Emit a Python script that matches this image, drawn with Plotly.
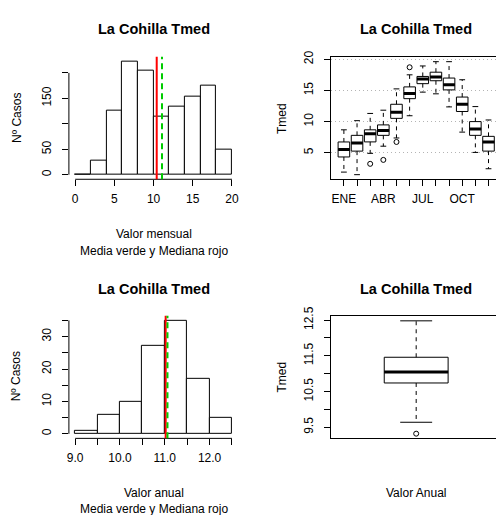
import plotly.graph_objects as go

W, H = 497, 515

def fx(x):
    return x / W

def fy(y):
    return 1 - y / H

# ---------------- data ----------------
mensual_bordes = [0, 2, 4, 6, 8, 10, 12, 14, 16, 18, 20]
mensual_casos = [1, 28, 126, 223, 205, 115, 133, 154, 175, 50]
mensual_media = 11.07
mensual_mediana = 10.40
mensual_ticks = [0, 5, 10, 15, 20]
mensual_yticks = [0, 50, 100, 150, 200]
mensual_ytext = ["0", "50", "", "150", ""]

anual_bordes = [9.0, 9.5, 10.0, 10.5, 11.0, 11.5, 12.0, 12.5]
anual_casos = [1, 6, 10, 27, 35, 17, 5]
anual_media = 11.06
anual_mediana = 11.02
anual_xticks = [9.0, 9.5, 10.0, 10.5, 11.0, 11.5, 12.0, 12.5]
anual_xtext = ["9.0", "", "10.0", "", "11.0", "", "12.0", ""]
anual_yticks = [0, 5, 10, 15, 20, 25, 30, 35]
anual_ytext = ["0", "", "10", "", "20", "", "30", ""]

meses = ["ENE", "FEB", "MAR", "ABR", "MAY", "JUN", "JUL", "AGO", "SEP", "OCT", "NOV", "DIC"]
meses_etiqueta = ["ENE", "", "", "ABR", "", "", "JUL", "", "", "OCT", "", ""]
mes_bigote_inf = [1.89, 1.48, 4.90, 6.05, 7.37, 10.94, 14.73, 14.46, 12.36, 8.31, 5.05, 2.43]
mes_q1 = [4.32, 5.26, 6.74, 7.79, 10.52, 13.68, 16.09, 16.56, 15.09, 11.62, 7.79, 5.26]
mes_mediana = [5.52, 6.58, 8.05, 8.58, 11.52, 14.51, 16.83, 17.15, 15.93, 12.78, 8.83, 6.73]
mes_q3 = [6.73, 7.79, 8.68, 9.47, 12.78, 15.57, 17.25, 17.93, 16.99, 13.94, 10.00, 7.63]
mes_bigote_sup = [8.68, 10.15, 11.31, 11.83, 15.25, 17.51, 18.93, 19.62, 19.62, 16.72, 12.41, 10.26]
atipico_mes = [3, 4, 5, 6]
atipico_valor = [3.22, 3.85, 6.73, 18.72]
mes_yticks = [5, 10, 15, 20]

caja_anual = dict(bigote_inf=9.64, q1=10.74, mediana=11.05, q3=11.46, bigote_sup=12.48)
caja_anual_atipicos = [9.32]
caja_anual_yticks = [9.5, 10.0, 10.5, 11.0, 11.5, 12.0, 12.5]
caja_anual_ytext = ["9.5", "", "10.5", "", "11.5", "", "12.5"]

titulo = "La Cohilla Tmed"

# ---------------- figure ----------------
fig = go.Figure()
BLACK = "#000000"


def add_hist(bordes, casos, xa, ya):
    centros = [(a + b) / 2 for a, b in zip(bordes[:-1], bordes[1:])]
    anchos = [b - a for a, b in zip(bordes[:-1], bordes[1:])]
    fig.add_trace(go.Bar(x=centros, y=casos, width=anchos, xaxis=xa, yaxis=ya,
                         marker=dict(color="white", line=dict(color=BLACK, width=1)),
                         showlegend=False, hoverinfo="skip"))


add_hist(mensual_bordes, mensual_casos, "x", "y")
add_hist(anual_bordes, anual_casos, "x3", "y3")


def add_boxes(pos, lo, q1, med, q3, hi, width, xa, ya):
    fig.add_trace(go.Box(x=pos, q1=q1, median=med, q3=q3, lowerfence=q1, upperfence=q3,
                         width=width, whiskerwidth=0, boxpoints=False,
                         fillcolor="white", line=dict(color=BLACK, width=1),
                         xaxis=xa, yaxis=ya, showlegend=False, hoverinfo="skip"))
    wx, wy, sx, sy, mx, my = [], [], [], [], [], []
    s = width / 4
    h = width / 2
    for p, a, b, m, c, d in zip(pos, lo, q1, med, q3, hi):
        wx += [p, p, None, p, p, None]
        wy += [c, d, None, b, a, None]
        sx += [p - s, p + s, None, p - s, p + s, None]
        sy += [d, d, None, a, a, None]
        mx += [p - h, p + h, None]
        my += [m, m, None]
    fig.add_trace(go.Scatter(x=wx, y=wy, mode="lines", xaxis=xa, yaxis=ya,
                             line=dict(color=BLACK, width=1, dash="4px,4px"),
                             showlegend=False, hoverinfo="skip"))
    fig.add_trace(go.Scatter(x=sx, y=sy, mode="lines", xaxis=xa, yaxis=ya,
                             line=dict(color=BLACK, width=1),
                             showlegend=False, hoverinfo="skip"))
    fig.add_trace(go.Scatter(x=mx, y=my, mode="lines", xaxis=xa, yaxis=ya,
                             line=dict(color=BLACK, width=3),
                             showlegend=False, hoverinfo="skip"))


pos_meses = list(range(1, len(meses) + 1))
add_boxes(pos_meses, mes_bigote_inf, mes_q1, mes_mediana, mes_q3, mes_bigote_sup, 0.88, "x2", "y2")
fig.add_trace(go.Scatter(x=atipico_mes, y=atipico_valor, mode="markers", xaxis="x2", yaxis="y2",
                         marker=dict(symbol="circle-open", size=5, color=BLACK, line=dict(width=1)),
                         showlegend=False, hoverinfo="skip"))

add_boxes([1], [caja_anual["bigote_inf"]], [caja_anual["q1"]], [caja_anual["mediana"]],
          [caja_anual["q3"]], [caja_anual["bigote_sup"]], 0.405, "x4", "y4")
fig.add_trace(go.Scatter(x=[1] * len(caja_anual_atipicos), y=caja_anual_atipicos, mode="markers",
                         xaxis="x4", yaxis="y4",
                         marker=dict(symbol="circle-open", size=5, color=BLACK, line=dict(width=1)),
                         showlegend=False, hoverinfo="skip"))

# ---------------- shapes (R-style axis lines, mean/median lines) ----------------
shapes = []


def axis_lines(xr, yr, xvals, yvals):
    shapes.append(dict(type="line", xref=xr, yref=yr + " domain", x0=min(xvals), x1=max(xvals),
                       y0=0, y1=0, line=dict(color=BLACK, width=1)))
    shapes.append(dict(type="line", xref=xr + " domain", yref=yr, x0=0, x1=0,
                       y0=min(yvals), y1=max(yvals), line=dict(color=BLACK, width=1)))


def vlines(xr, yr, mediana, media):
    shapes.append(dict(type="line", xref=xr, yref=yr + " domain", x0=mediana, x1=mediana,
                       y0=0, y1=1, line=dict(color="#ff0000", width=2)))
    shapes.append(dict(type="line", xref=xr, yref=yr + " domain", x0=media, x1=media,
                       y0=0, y1=1, line=dict(color="#00cc00", width=2, dash="6px,4px")))


axis_lines("x", "y", mensual_ticks, mensual_yticks)
axis_lines("x3", "y3", anual_xticks, anual_yticks)
vlines("x", "y", mensual_mediana, mensual_media)
vlines("x3", "y3", anual_mediana, anual_media)

# ---------------- axes ----------------
common = dict(zeroline=False, showgrid=False, ticks="outside", ticklen=6, tickwidth=1,
              tickcolor=BLACK, tickfont=dict(size=12, color=BLACK), linecolor=BLACK, linewidth=1)
xstand = 2
ystand = 6

LX = [fx(67.3), fx(237.7)]
RX = [fx(331), 1.0]
TY = [fy(173.3), fy(48.5)]
BY = [fy(437.0), fy(312.3)]

fig.update_layout(
    xaxis=dict(domain=LX, anchor="y", range=[-0.8, 20.8], tickvals=mensual_ticks,
               showline=False, ticklabelstandoff=xstand, **common),
    yaxis=dict(domain=TY, anchor="x", range=[-8.92, 231.92], tickvals=mensual_yticks,
               ticktext=mensual_ytext, tickangle=-90, showline=False, ticklabelstandoff=ystand, **common),
    xaxis2=dict(domain=RX, anchor="y2", range=[0.02, 12.57], tickvals=pos_meses,
                ticktext=meses_etiqueta, showline=True, mirror=True, ticklabelstandoff=xstand, **common),
    yaxis2=dict(domain=[fy(173.3), fy(49.3)], anchor="x2", range=[0.74, 20.3], tickvals=mes_yticks,
                tickangle=-90, showline=True, mirror=False, ticklabelstandoff=ystand,
                **{**common, "showgrid": True}, gridcolor="#b4b4b4", griddash="1px,3px", gridwidth=1),
    xaxis3=dict(domain=LX, anchor="y3", range=[8.86, 12.64], tickvals=anual_xticks,
                ticktext=anual_xtext, showline=False, ticklabelstandoff=xstand, **common),
    yaxis3=dict(domain=BY, anchor="x3", range=[-1.4, 36.4], tickvals=anual_yticks,
                ticktext=anual_ytext, tickangle=-90, showline=False, ticklabelstandoff=ystand, **common),
    xaxis4=dict(domain=RX, anchor="y4", range=[0.46, 1.506], showline=True, mirror=True,
                showticklabels=False, **{**common, "ticks": ""}),
    yaxis4=dict(domain=[fy(436.7), fy(312.3)], anchor="x4", range=[9.197, 12.62],
                tickvals=caja_anual_yticks, ticktext=caja_anual_ytext, tickangle=-90,
                showline=True, mirror=False, ticklabelstandoff=ystand, **common),
)

# ---------------- text ----------------
ann = []


def text(x, y, s, size=12, bold=False, angle=0):
    ann.append(dict(x=fx(x), y=fy(y), xref="paper", yref="paper", text=("<b>%s</b>" % s) if bold else s,
                    showarrow=False, xanchor="center", yanchor="middle", textangle=angle,
                    font=dict(size=size, color=BLACK)))


text(152.5, 20.5, titulo, 14.5, True)
text(416.7, 20.5, titulo, 14.5, True)
text(152.5, 284.5, titulo, 14.5, True)
text(416.7, 284.5, titulo, 14.5, True)

text(152.5, 229, "Valor mensual")
text(152.5, 246, "Media verde y Mediana rojo")
text(152.5, 492.3, "Valor anual")
text(152.5, 508.5, "Media verde y Mediana rojo")
text(416.7, 492.3, "Valor Anual")

text(15, 111, "Nº Casos", angle=-90)
text(15, 374, "Nº Casos", angle=-90)
text(281.7, 111, "Tmed", angle=-90)
text(281.7, 374, "Tmed", angle=-90)

fig.update_layout(
    width=W, height=H, autosize=False,
    margin=dict(l=0, r=0, t=0, b=0, pad=0),
    paper_bgcolor="white", plot_bgcolor="white",
    font=dict(family="Liberation Sans, Arial, sans-serif", size=12, color=BLACK),
    shapes=shapes, annotations=ann, showlegend=False, bargap=0,
)

fig.write_html("out.html")
